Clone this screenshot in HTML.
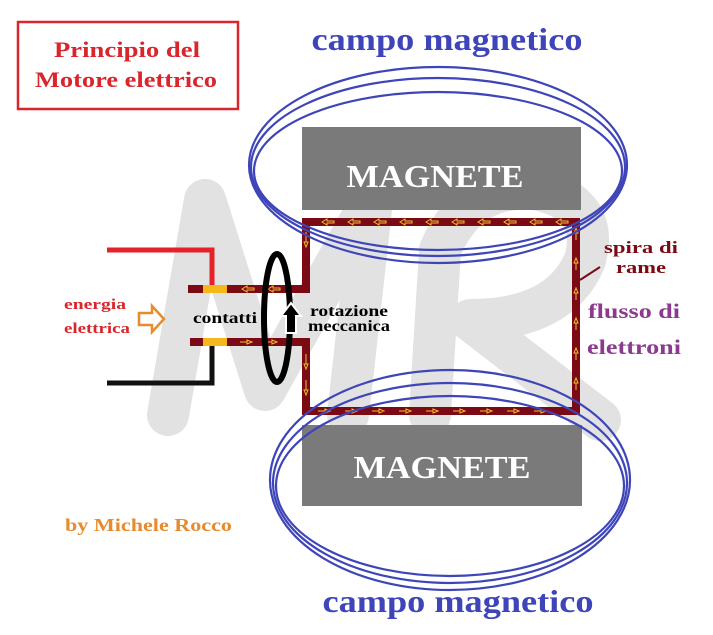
<!DOCTYPE html>
<html><head><style>
body{margin:0;background:#fff;}
svg{display:block}
text{font-family:"Liberation Serif",serif;font-weight:bold;}
</style></head><body>
<svg width="713" height="635" viewBox="0 0 713 635" xmlns="http://www.w3.org/2000/svg">
<rect width="713" height="635" fill="#fff"/>
<!-- watermark -->
<g stroke="#e2e2e2" stroke-width="42" fill="none" stroke-linecap="round" stroke-linejoin="round">
<path d="M168 415 L205 200 L265 390 L372 200 L348 415"/>
<path d="M430 415 L440 250 Q470 180 540 190 Q600 205 585 260 Q560 320 470 320 L600 420"/>
</g>
<!-- title -->
<rect x="18" y="22" width="220" height="87" fill="none" stroke="#d9262c" stroke-width="2.5"/>
<text x="127" y="57" font-size="22" fill="#d9262c" text-anchor="middle" textLength="146" lengthAdjust="spacingAndGlyphs">Principio del</text>
<text x="126" y="87" font-size="22" fill="#d9262c" text-anchor="middle" textLength="182" lengthAdjust="spacingAndGlyphs">Motore elettrico</text>
<text x="447" y="50" font-size="32" fill="#3e45b8" text-anchor="middle" textLength="271" lengthAdjust="spacingAndGlyphs">campo magnetico</text>
<text x="458" y="612" font-size="32" fill="#3e45b8" text-anchor="middle" textLength="271" lengthAdjust="spacingAndGlyphs">campo magnetico</text>
<!-- magnets -->
<rect x="302" y="127" width="279" height="83" fill="#7a7a7a"/>
<text x="435" y="187" font-size="32" fill="#fff" text-anchor="middle" textLength="177" lengthAdjust="spacingAndGlyphs">MAGNETE</text>
<rect x="302" y="425" width="280" height="81" fill="#7a7a7a"/>
<text x="442" y="478" font-size="32" fill="#fff" text-anchor="middle" textLength="177" lengthAdjust="spacingAndGlyphs">MAGNETE</text>
<!-- wires -->
<polyline points="107,250 212,250 212,289" fill="none" stroke="#e4222a" stroke-width="5"/>
<polyline points="107,383 212,383 212,342" fill="none" stroke="#111" stroke-width="5"/>
<g stroke="#7b0a14" stroke-width="8" fill="none" stroke-linecap="butt">
<polyline points="188,289 306,289 306,222 576,222 576,411 306,411 306,342 190,342"/>
</g>
<line x1="203" y1="289" x2="227" y2="289" stroke="#f5b81c" stroke-width="8"/>
<line x1="203" y1="342" x2="227" y2="342" stroke="#f5b81c" stroke-width="8"/>
<g fill="none" stroke="#f0c030" stroke-width="1">
<g id="al"><path d="M322 222 l5 -3 v2 h7 v2 h-7 v2 z"/></g>
<use href="#al" x="26"/><use href="#al" x="52"/><use href="#al" x="78"/><use href="#al" x="104"/><use href="#al" x="130"/><use href="#al" x="156"/><use href="#al" x="182"/><use href="#al" x="208"/><use href="#al" x="234"/>
<use href="#al" x="-80" y="67"/><use href="#al" x="-54" y="67"/>
<path d="M318 411 h7 v-2 l5 2 l-5 2 v-2z"/><path d="M345 411 h7 v-2 l5 2 l-5 2 v-2z"/><path d="M372 411 h7 v-2 l5 2 l-5 2 v-2z"/><path d="M399 411 h7 v-2 l5 2 l-5 2 v-2z"/><path d="M426 411 h7 v-2 l5 2 l-5 2 v-2z"/><path d="M453 411 h7 v-2 l5 2 l-5 2 v-2z"/><path d="M480 411 h7 v-2 l5 2 l-5 2 v-2z"/><path d="M507 411 h7 v-2 l5 2 l-5 2 v-2z"/><path d="M534 411 h7 v-2 l5 2 l-5 2 v-2z"/>
<path d="M240 342 h7 v-2 l5 2 l-5 2 v-2z"/><path d="M265 342 h7 v-2 l5 2 l-5 2 v-2z"/>
<path d="M576 390 v-7 h-2 l2 -5 l2 5 h-2z"/><path d="M576 360 v-7 h-2 l2 -5 l2 5 h-2z"/><path d="M576 330 v-7 h-2 l2 -5 l2 5 h-2z"/><path d="M576 300 v-7 h-2 l2 -5 l2 5 h-2z"/><path d="M576 270 v-7 h-2 l2 -5 l2 5 h-2z"/><path d="M576 240 v-7 h-2 l2 -5 l2 5 h-2z"/>
<path d="M306 232 v10 h-2 l2 5 l2 -5 h-2z"/><path d="M306 354 v10 h-2 l2 5 l2 -5 h-2z"/><path d="M306 380 v10 h-2 l2 5 l2 -5 h-2z"/>
</g>
<!-- ellipses -->
<g fill="none" stroke="#3e45b8" stroke-width="2.2">
<ellipse cx="438" cy="165" rx="189" ry="98"/>
<ellipse cx="438" cy="167" rx="187" ry="89"/>
<ellipse cx="438" cy="171" rx="184" ry="79"/>
<ellipse cx="450" cy="480" rx="180" ry="110"/>
<ellipse cx="450" cy="483" rx="177" ry="100"/>
<ellipse cx="450" cy="486" rx="174" ry="90"/>
</g>
<!-- rotation ring -->
<ellipse cx="277" cy="318" rx="13" ry="64" fill="none" stroke="#000" stroke-width="6"/>
<path d="M286 333 v-17 h-5 l10 -13 l10 13 h-5 v17 z" fill="#000" stroke="#fff" stroke-width="2"/>
<text x="310" y="316" font-size="16" fill="#000" textLength="78" lengthAdjust="spacingAndGlyphs">rotazione</text>
<text x="308" y="331" font-size="16" fill="#000" textLength="82" lengthAdjust="spacingAndGlyphs">meccanica</text>
<text x="193" y="323" font-size="16" fill="#000" textLength="64" lengthAdjust="spacingAndGlyphs">contatti</text>
<text x="95" y="309" font-size="15" fill="#d9262c" text-anchor="middle" textLength="62" lengthAdjust="spacingAndGlyphs">energia</text>
<text x="97" y="333" font-size="15" fill="#d9262c" text-anchor="middle" textLength="66" lengthAdjust="spacingAndGlyphs">elettrica</text>
<path d="M139 313 h13 v-7 l12 13 l-12 13 v-7 h-13 z" fill="#fff" stroke="#e88b2e" stroke-width="2.5"/>
<line x1="580" y1="280" x2="600" y2="267" stroke="#7b0a14" stroke-width="2"/>
<text x="641" y="253" font-size="17" fill="#7b0a14" text-anchor="middle" textLength="74" lengthAdjust="spacingAndGlyphs">spira di</text>
<text x="641" y="273" font-size="17" fill="#7b0a14" text-anchor="middle" textLength="50" lengthAdjust="spacingAndGlyphs">rame</text>
<text x="634" y="318" font-size="21" fill="#8b3a8f" text-anchor="middle" textLength="92" lengthAdjust="spacingAndGlyphs">flusso di</text>
<text x="634" y="354" font-size="21" fill="#8b3a8f" text-anchor="middle" textLength="94" lengthAdjust="spacingAndGlyphs">elettroni</text>
<text x="65" y="531" font-size="18" fill="#e88b2e" textLength="167" lengthAdjust="spacingAndGlyphs">by Michele Rocco</text>
</svg>
</body></html>
